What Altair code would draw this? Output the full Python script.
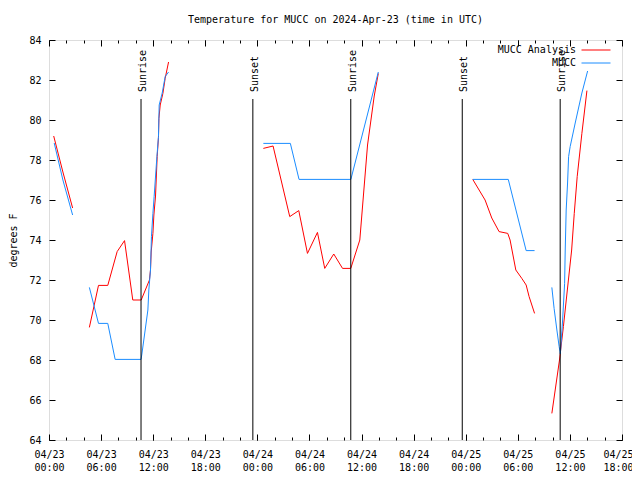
import altair as alt
import pandas as pd

# ---- data (hours since 2024-04-23 00:00 UTC, temperature in degrees F) ----
RED_H = [
    [0.54, 1.6, 2.72],
    [4.65, 5.7, 6.77, 7.85, 8.7, 9.65, 10.62, 11.57, 11.69, 11.77, 11.97, 12.08, 12.27, 12.46, 12.61, 12.66, 12.81, 13.12, 13.38, 13.77],
    [24.69, 25.81, 27.73, 28.77, 29.77, 30.92, 31.76, 32.8, 33.81, 34.76, 35.8, 36.69, 37.46, 37.93],
    [48.81, 50.23, 51.0, 51.84, 52.84, 53.11, 53.77, 54.46, 54.96, 55.3, 55.93],
    [57.92, 58.8, 59.25, 60.2, 60.5, 60.84, 61.38, 61.96],
]
RED_T = [
    [79.2, 77.4, 75.6],
    [69.63, 71.73, 71.73, 73.42, 73.97, 71.0, 71.0, 72.0, 72.5, 73.4, 74.33, 75.25, 76.2, 78.17, 79.13, 80.08, 80.75, 81.33, 82.08, 82.9],
    [78.58, 78.7, 75.17, 75.47, 73.33, 74.38, 72.58, 73.3, 72.58, 72.58, 74.0, 78.75, 81.2, 82.33],
    [77.03, 76.0, 75.1, 74.42, 74.33, 74.0, 72.5, 72.08, 71.75, 71.17, 70.33],
    [65.33, 68.0, 69.67, 73.5, 75.33, 77.17, 79.33, 81.47],
]
BLUE_H = [
    [0.6, 1.6, 2.72],
    [4.65, 5.7, 6.77, 7.62, 10.6, 10.7, 11.39, 11.5, 11.69, 11.8, 11.97, 12.11, 12.43, 12.61, 12.69, 13.04, 13.38, 13.77],
    [24.69, 27.8, 28.8, 34.77, 37.93],
    [48.81, 52.9, 54.96, 55.93],
    [57.92, 58.18, 58.5, 58.76, 58.9, 59.16, 59.39, 59.46, 59.57, 59.73, 59.85, 60.03, 60.61, 61.38, 62.04],
]
BLUE_T = [
    [78.85, 77.0, 75.25],
    [71.63, 69.83, 69.83, 68.03, 68.03, 68.3, 70.5, 71.5, 72.5, 74.17, 75.33, 76.17, 78.17, 79.17, 80.75, 81.35, 82.17, 82.4],
    [78.83, 78.83, 77.03, 77.03, 82.4],
    [77.03, 77.03, 73.47, 73.47],
    [71.63, 70.58, 69.5, 68.67, 68.3, 70.0, 71.83, 73.5, 75.5, 76.85, 78.17, 78.67, 79.85, 81.35, 82.45],
]
SERIES = ["MUCC Analysis", "MUCC"]
COLORS = ["#ff0000", "#1a8cff"]

SUN_H = [10.6, 23.48, 34.76, 47.6, 58.88]
SUN_LABEL = ["Sunrise", "Sunset", "Sunrise", "Sunset", "Sunrise"]
SUN_TOP = 81.05

X_MAJOR = [0, 6, 12, 18, 24, 30, 36, 42, 48, 54, 60, 66]
X_MINOR = list(range(0, 67, 2))
Y_TICKS = [64, 66, 68, 70, 72, 74, 76, 78, 80, 82, 84]

# ---- tables ----
rows = []
for name, HH, TT in ((SERIES[0], RED_H, RED_T), (SERIES[1], BLUE_H, BLUE_T)):
    for i, (hs, ts) in enumerate(zip(HH, TT)):
        for h, t in zip(hs, ts):
            rows.append({"series": name, "seg": f"{name}-{i}", "h": h, "temp": t})
df = pd.DataFrame(rows)
sun = pd.DataFrame({"h": SUN_H, "label": SUN_LABEL, "top": [SUN_TOP] * len(SUN_H), "bottom": [64] * len(SUN_H)})

W, H = 573, 400
FONT = "DejaVu Sans Mono"
FS = 10
PAD = "\u2800" * 5  # blank glyphs that keep the label clear of the line sample

xs = alt.Scale(domain=[0, 66], nice=False, zero=False)
ys = alt.Scale(domain=[64, 84], nice=False, zero=False)

label_expr = ("[ '04/' + (23 + floor(datum.value/24)), "
              "(datum.value % 24 < 10 ? '0' : '') + (datum.value % 24) + ':00' ]")

def tick_axis(orient, values, size, offset):
    return alt.Axis(orient=orient, values=values, tickSize=size, offset=offset,
                    labels=False, domain=False, grid=False, title=None,
                    tickColor="black", tickWidth=1)

base = alt.Chart(df)

lines = base.mark_line(strokeWidth=1).encode(
    x=alt.X("h:Q", scale=xs, axis=alt.Axis(
        orient="bottom", values=X_MAJOR, labelExpr=label_expr,
        ticks=False, tickSize=0, domain=False, grid=False, title=None,
        labelPadding=9, labelLineHeight=13, labelFont=FONT,
        labelFontSize=FS, labelColor="black", labelFlush=False,
        labelAlign={"condition": {"test": "datum.value == 66", "value": "right"}, "value": "center"},
        labelOffset={"condition": {"test": "datum.value == 66", "value": 11}, "value": 0},
    )),
    y=alt.Y("temp:Q", scale=ys, axis=alt.Axis(orient="left", values=Y_TICKS, ticks=False, tickSize=0,
                                              domain=False, grid=False, title="degrees F",
                                              labelPadding=8, labelFont=FONT, labelFontSize=FS,
                                              labelColor="black", titleFont=FONT, titleFontSize=FS,
                                              titleFontWeight="normal", titleColor="black",
                                              titlePadding=10)),
    color=alt.Color("series:N", scale=alt.Scale(domain=SERIES, range=COLORS),
                    legend=alt.Legend(title=None, orient="none", legendX=532, legendY=5,
                                      symbolType="stroke", symbolSize=841, symbolStrokeWidth=1,
                                      labelAlign="right", labelOffset=0, clipHeight=10,
                                      labelExpr=f"datum.label + '{PAD}'",
                                      labelFont=FONT, labelFontSize=FS, labelColor="black",
                                      padding=0, rowPadding=3)),
    detail="seg:N",
    order="h:Q",
)

rules = alt.Chart(sun).mark_rule(color="black", strokeWidth=1).encode(
    x=alt.X("h:Q", scale=xs, axis=None),
    y=alt.Y("bottom:Q", scale=ys, axis=None),
    y2="top:Q",
)
texts = alt.Chart(sun).mark_text(angle=270, align="left", baseline="middle", dx=7, dy=2,
                                 font=FONT, fontSize=FS, color="black").encode(
    x=alt.X("h:Q", scale=xs, axis=None),
    y=alt.Y("top:Q", scale=ys, axis=None),
    text="label:N",
)

def carrier(xaxis, yaxis):
    return base.mark_point(opacity=0).encode(
        x=alt.X("h:Q", scale=xs, axis=xaxis),
        y=alt.Y("temp:Q", scale=ys, axis=yaxis),
    )

c1 = carrier(tick_axis("top", X_MAJOR, 6, -H), tick_axis("right", Y_TICKS, 6, -W))
c2 = carrier(tick_axis("bottom", X_MAJOR, 6, -H), tick_axis("left", Y_TICKS, 6, -W))
c3 = carrier(tick_axis("top", X_MINOR, 3, -H), None)
c4 = carrier(tick_axis("bottom", X_MINOR, 3, -H), None)

chart = alt.layer(lines, rules, texts, c1, c2, c3, c4).resolve_axis(
    x="independent", y="independent"
).properties(
    width=W, height=H,
    title=alt.TitleParams("Temperature for MUCC on 2024-Apr-23 (time in UTC)", font=FONT,
                          fontSize=FS, fontWeight="normal", color="black", offset=10, anchor="middle"),
    autosize=alt.AutoSizeParams(type="none"),
    padding={"left": 41, "top": 32, "right": 10, "bottom": 32},
).configure_view(stroke="black", strokeWidth=1).configure(background="white")

chart.save("out.html", embed_options={"renderer": "svg", "actions": False})
